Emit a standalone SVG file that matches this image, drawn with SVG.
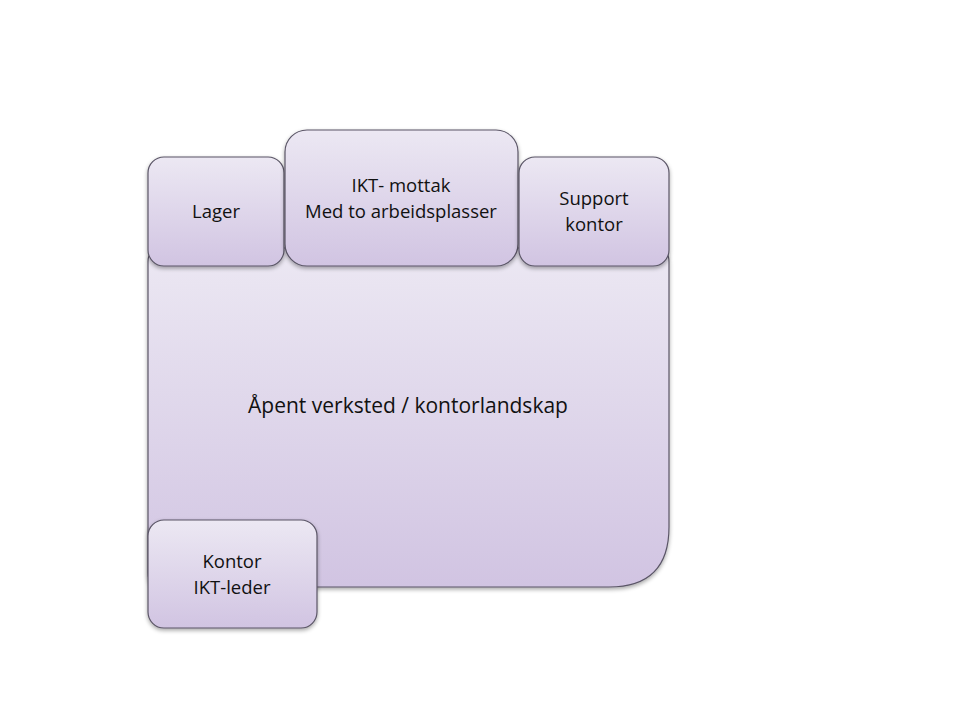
<svg xmlns="http://www.w3.org/2000/svg" width="960" height="720" viewBox="0 0 960 720">
<defs>
<linearGradient id="g" x1="0" y1="0" x2="0" y2="1">
<stop offset="0" stop-color="#ece8f3"/>
<stop offset="1" stop-color="#d1c4e2"/>
</linearGradient>
<filter id="sh" x="-10%" y="-10%" width="120%" height="125%">
<feGaussianBlur in="SourceAlpha" stdDeviation="2"/>
<feOffset dx="0" dy="2" result="b"/>
<feComponentTransfer><feFuncA type="linear" slope="0.35"/></feComponentTransfer>
<feMerge><feMergeNode/><feMergeNode in="SourceGraphic"/></feMerge>
</filter>
</defs>
<style>
.box{fill:url(#g);stroke:#5a5566;stroke-width:1.2;filter:url(#sh)}
text{font-family:"Open Sans","Liberation Sans",sans-serif;font-size:18.5px;fill:#111;text-anchor:middle}
.big{font-size:21px}
</style>
<rect width="960" height="720" fill="#fff"/>
<g id="main">
<path class="box" d="M148,262 Q148,248 162,248 L655,248 Q669,248 669,262 L669,527 Q669,587 609,587 L162,587 Q148,587 148,573 Z"/>
<text class="big" x="408" y="413">Åpent verksted / kontorlandskap</text>
</g>
<g id="lager">
<rect class="box" x="148" y="157" width="136" height="109" rx="16"/>
<text x="216" y="218">Lager</text>
</g>
<g id="ikt">
<rect class="box" x="285" y="130" width="233" height="136" rx="22"/>
<text x="401" y="192">IKT- mottak</text>
<text x="401" y="218">Med to arbeidsplasser</text>
</g>
<g id="support">
<rect class="box" x="519" y="157" width="150" height="109" rx="16"/>
<text x="594" y="205">Support</text>
<text x="594" y="231">kontor</text>
</g>
<g id="kontor">
<rect class="box" x="148" y="520" width="169" height="108" rx="16"/>
<text x="232" y="568">Kontor</text>
<text x="232" y="594">IKT-leder</text>
</g>
<g id="connectors"/>
</svg>
